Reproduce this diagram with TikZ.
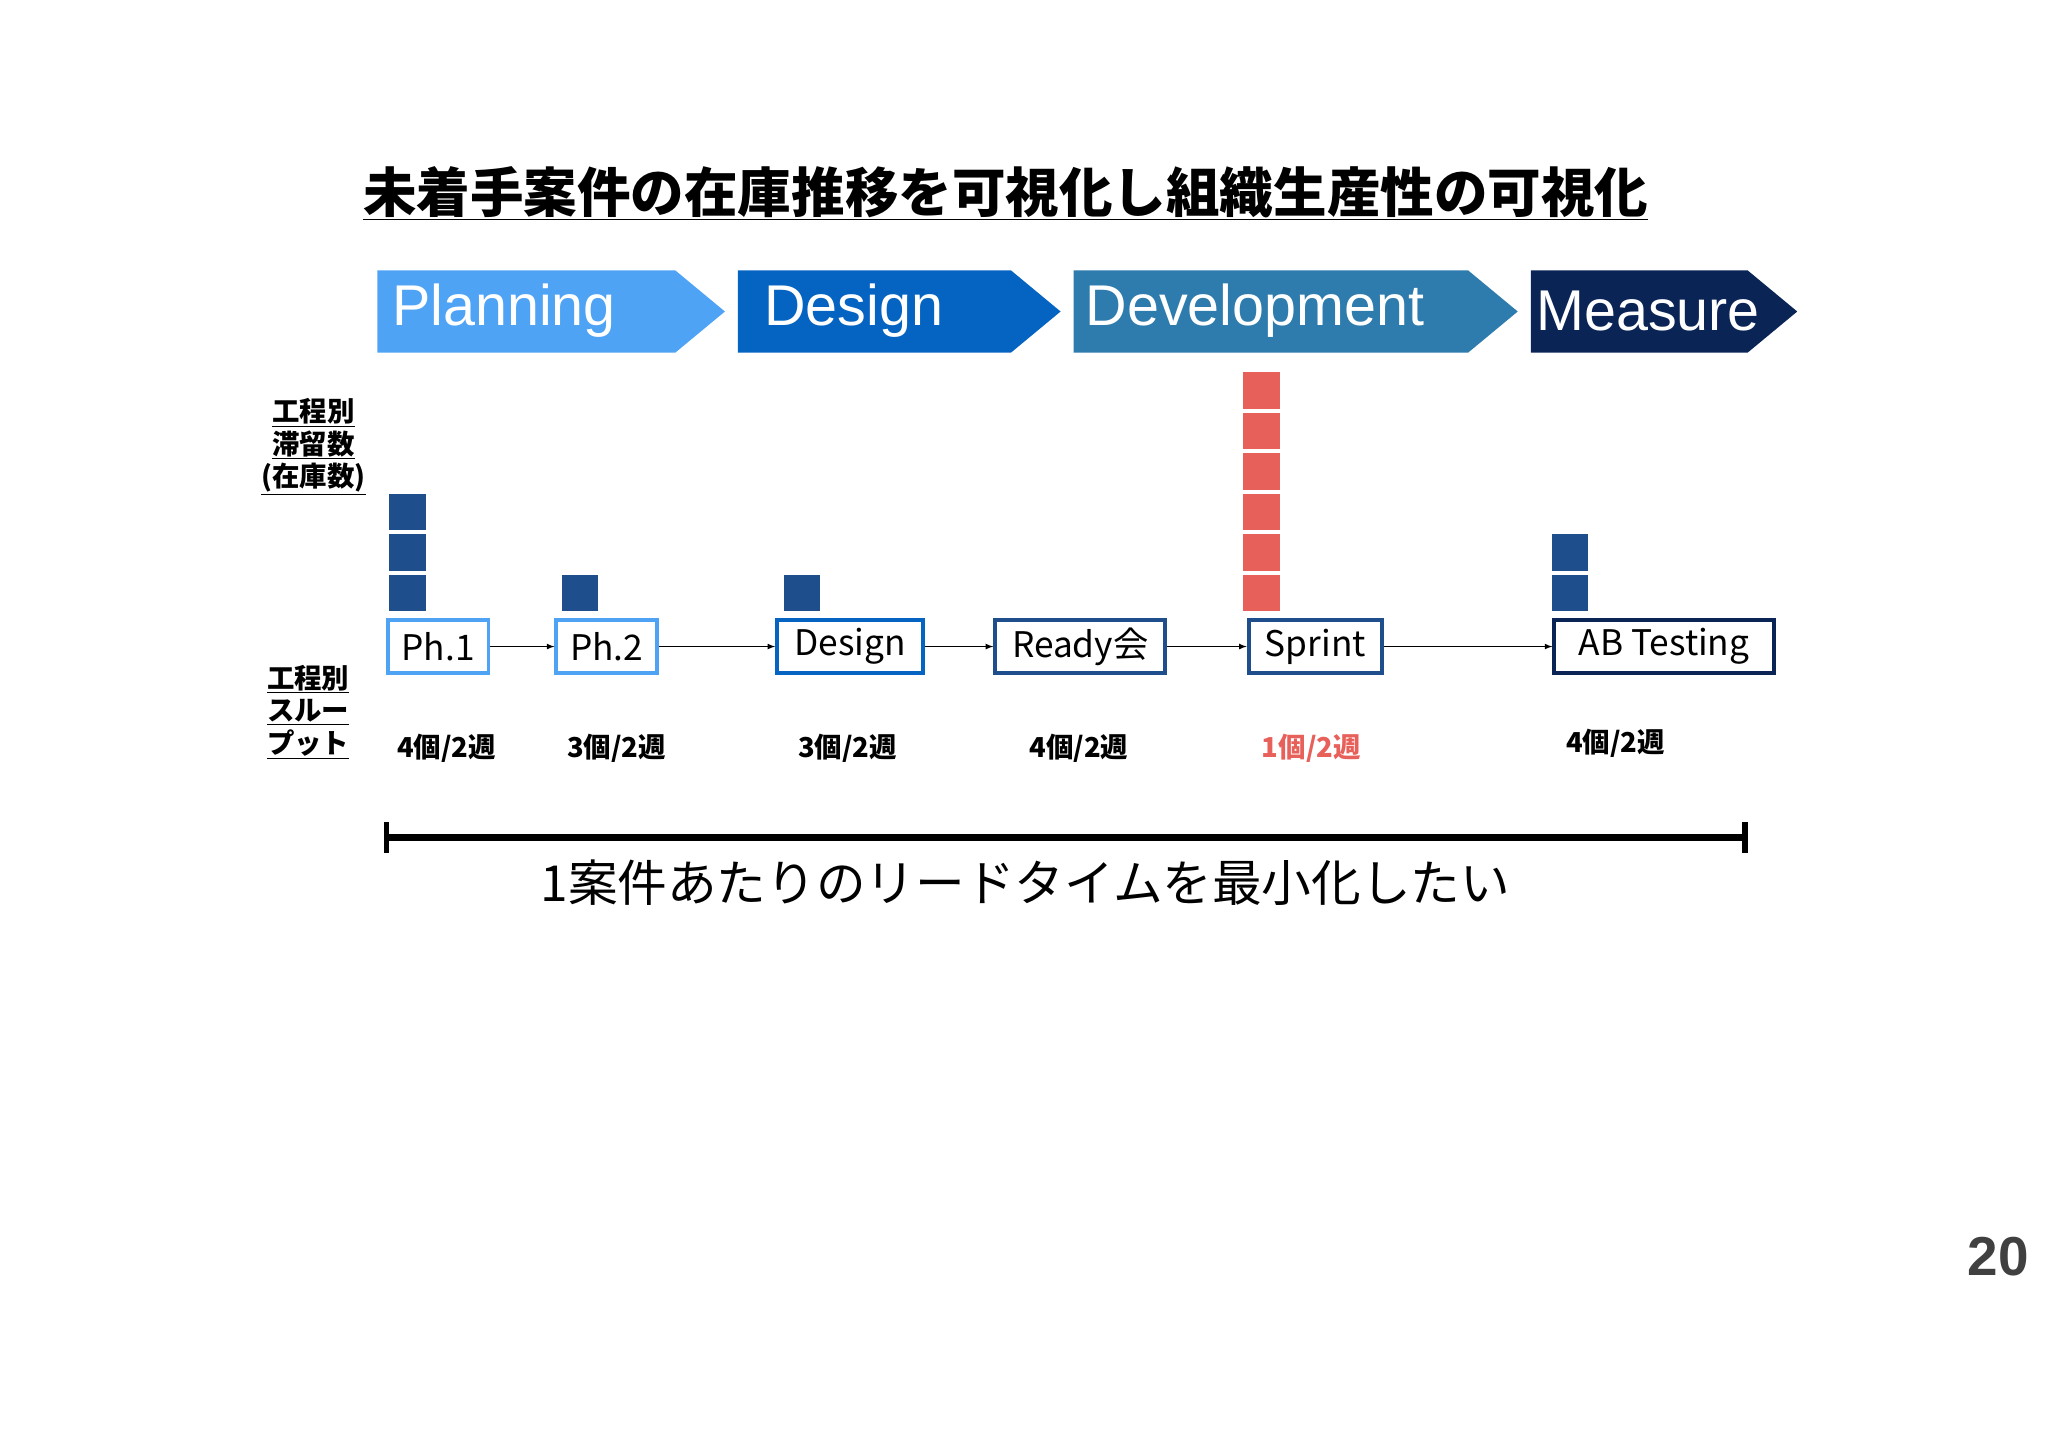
\documentclass[tikz,border=0pt]{standalone}
\usepackage{fontspec}
\setmainfont{Noto Sans CJK JP}
\newfontfamily\lat{Liberation Sans}
\begin{document}
\begin{tikzpicture}[x=1pt,y=-1pt,
  chev/.style={inner sep=0},
  pbox/.style={draw,line width=3pt,fill=white,minimum height=40pt,inner sep=0pt,font=\fontsize{27}{30}\selectfont},
  sq/.style={minimum width=28pt,minimum height=28pt,inner sep=0},
  lbl/.style={font=\bfseries\fontsize{21}{27}\selectfont,align=center},
  tp/.style={font=\bfseries\fontsize{21}{24}\selectfont},
  arr/.style={-latex,line width=1pt}]
\definecolor{cPl}{HTML}{4FA3F5}
\definecolor{cDe}{HTML}{0563C1}
\definecolor{cDv}{HTML}{2E7BAD}
\definecolor{cMe}{HTML}{0A2456}
\definecolor{cBl}{HTML}{1F4E8C}
\definecolor{cRd}{HTML}{E8605A}
\useasboundingbox (0,0) rectangle (1568,1108);
\fill[white] (0,0) rectangle (1568,1108);
% title
\node (title) at (770,148) {\bfseries\fontsize{41}{48}\selectfont\underline{未着手案件の在庫推移を可視化し組織生産性の可視化}};
% chevrons
\foreach \a/\b/\c/\t/\n/\tx in {289/555/cPl/Planning/cp/300,565/812/cDe/Design/cd/585,822/1162/cDv/Development/cv/831,1172/1376/cMe/Measure/cm/1176}{
  \fill[\c] (\a,207) -- (\b-38,207) -- (\b,238.5) -- (\b-38,270) -- (\a,270) -- cycle;
  \node[anchor=west,text=white,inner sep=0] (\n) at (\tx,238) {\lat\fontsize{44}{48}\selectfont\t};
}
% left labels
\node[lbl] (l1) at (240,342) {\underline{工程別}\\[-2pt]\underline{滞留数}\\[-2pt]\underline{(在庫数)}};
\node[lbl] (l2) at (236,545) {\underline{工程別}\\[-2pt]\underline{スルー}\\[-2pt]\underline{プット}};
% boxes
\node[pbox,draw=cPl,minimum width=77pt] (b1) at (335.5,495) {Ph.1};
\node[pbox,draw=cPl,minimum width=77pt] (b2) at (464.5,495) {Ph.2};
\node[pbox,draw=cDe,minimum width=112pt] (b3) at (651,495) {Design};
\node[pbox,draw=cBl,minimum width=130pt] (b4) at (827,495) {Ready会};
\node[pbox,draw=cBl,minimum width=102pt] (b5) at (1007,495) {Sprint};
\node[pbox,draw=cMe,minimum width=168pt] (b6) at (1274,495) {AB Testing};
\draw[arr] (b1) -- (b2);
\draw[arr] (b2) -- (b3);
\draw[arr] (b3) -- (b4);
\draw[arr] (b4) -- (b5);
\draw[arr] (b5) -- (b6);
% squares
\foreach \i in {0,1,2} \node[sq,fill=cBl] (s1\i) at (312,454-31*\i) {};
\node[sq,fill=cBl] (s2) at (444,454) {};
\node[sq,fill=cBl] (s3) at (614,454) {};
\foreach \i in {0,...,5} \node[sq,fill=cRd] (s5\i) at (966,454-31*\i) {};
\foreach \i in {0,1} \node[sq,fill=cBl] (s6\i) at (1202,454-31*\i) {};
% throughput
\node[tp] (t1) at (342,573) {4個/2週};
\node[tp] (t2) at (472,573) {3個/2週};
\node[tp] (t3) at (649,573) {3個/2週};
\node[tp] (t4) at (826,573) {4個/2週};
\node[tp,text=cRd] (t5) at (1004,573) {1個/2週};
\node[tp] (t6) at (1237,569) {4個/2週};
% lead time bar
\coordinate (la) at (296,641);
\coordinate (lb) at (1336,641);
\draw[line width=5pt] (la) -- (lb);
\draw[line width=4pt] ([yshift=-12pt]la) -- ([yshift=12pt]la);
\draw[line width=4pt] ([yshift=-12pt]lb) -- ([yshift=12pt]lb);
\node (lead) at (785,676) {\fontsize{38}{44}\selectfont 1案件あたりのリードタイムを最小化したい};
\node[text=black!75] (pg) at (1530,962) {\lat\bfseries\fontsize{42}{48}\selectfont 20};
\end{tikzpicture}
\end{document}
